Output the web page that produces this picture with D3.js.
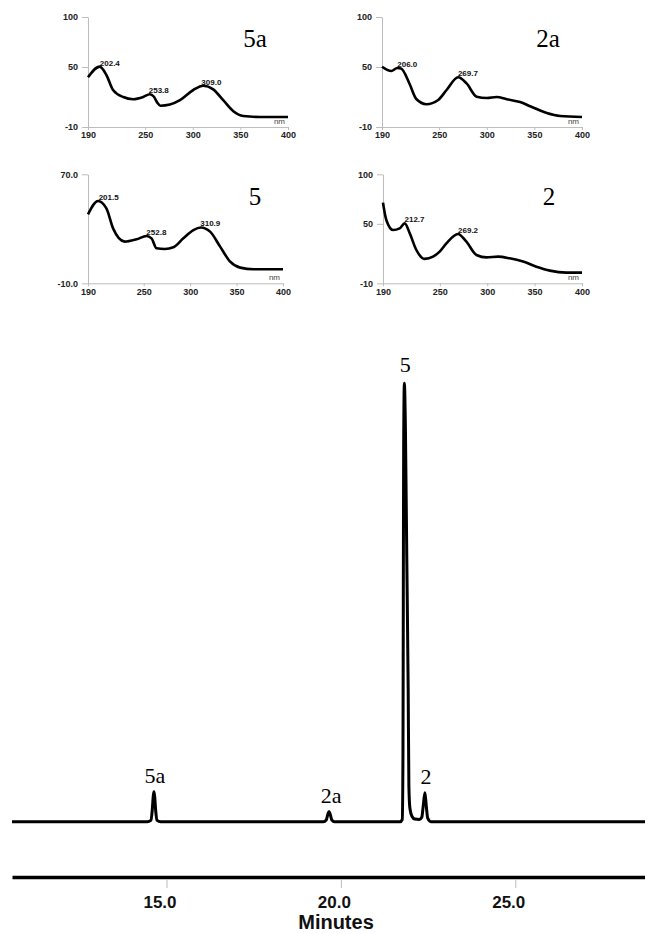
<!DOCTYPE html>
<html>
<head>
<meta charset="utf-8">
<script src="https://cdn.jsdelivr.net/npm/d3@7"></script>
<style>
  html, body { margin: 0; padding: 0; background: #fff; }
  svg { display: block; }
</style>
</head>
<body>
<div class="chart-box"></div>
<script>
// UV spectra of the four peaks: [wavelength nm, absorbance]
const spectrum5a = [[190,39.7],[202.3,50.4],[209.3,42],[216.3,27],[227,20],[237.4,17.8],[248,20],[255,22.8],[259,20.5],
  [263,14],[266,11.3],[276,12.5],[286.6,16.8],[300.6,27],[311,31.3],[321.5,27.6],[332,16.8],[342.6,5.8],[353,1],[370.6,0],[400,0]];
const spectrum2a = [[190,50.3],[199.8,46],[206,49],[210,48.5],[219,33],[226,18],[236.7,12.8],[249,17],[257.8,27],[270,39.7],
  [278.8,33.6],[289.4,20.3],[300,19],[310.4,20],[321,17.7],[335,15],[345.6,10.8],[363,4],[377,1],[400,0]];
const spectrum5 = [[190,40.6],[200.8,50.4],[209.8,45],[217,30.3],[229.6,20.6],[242.2,22.3],[253,24.7],[258.4,23],[263.8,15.7],
  [272.8,15.2],[281.9,16.4],[292.7,23],[303.5,29.1],[311.5,31],[321.5,27.9],[332.3,16.9],[343.1,5.9],[353.9,1.5],[368.3,0.3],[400,0.3]];
const spectrum2 = [[190,71.4],[193.5,53.9],[200.6,43.8],[207.6,45.5],[212.9,50.5],[218.2,40.5],[225.2,23.6],[234,14.6],[242.8,16.9],
  [249.8,22],[256.9,30.4],[269.2,39.8],[278,32],[288.6,18.6],[299.2,16.2],[311.5,16.9],[323.7,15.2],[337.8,11.9],[351.9,6.8],
  [366,2.8],[383.5,0.8],[400,0.8]];

// labelled maxima of each spectrum: [wavelength, absorbance]
const maxima5a = [[202.4,50.4],[253.8,22.8],[309.0,31.3]];
const maxima2a = [[206.0,49],[269.7,39.7]];
const maxima5 = [[201.5,50.4],[252.8,24.7],[310.9,31]];
const maxima2 = [[212.7,50.5],[269.2,39.8]];

const nmTicks = [190, 250, 300, 350, 400];
const absTicks = [-10, 50, 100];
const absTicks5 = [-10, 70];

// chromatogram trace: [minutes, signal]
const chromatogram = [[10.57,0],[14.45,0],[14.55,0.3],[14.59,2.5],[14.62,5.8],[14.64,6.84],[14.66,5.8],[14.69,2.5],[14.73,0.3],
  [14.83,0],[19.5,0],[19.58,0.4],[19.63,1.8],[19.66,2.3],[19.69,1.8],[19.74,0.4],[19.82,0],[21.7,0],[21.76,0.5],[21.78,15],
  [21.79,50],[21.8,85],[21.82,100],[21.85,90],[21.89,60],[21.93,30],[21.95,8],[21.98,3],[22.04,1.2],[22.12,0.6],[22.25,0.5],
  [22.32,1],[22.36,3.5],[22.41,6.6],[22.45,3.5],[22.49,0.8],[22.58,0],[28.72,0]];
const peakNames = ['5a', '2a', '5', '2'];
const peakTimes = [14.64, 19.66, 21.82, 22.41];
const peakHeights = [6.84, 2.3, 100, 6.6];
const minuteTicks = [15, 20, 25];

const SANS = '"Liberation Sans", Arial, sans-serif';
const SERIF = '"Liberation Serif", "Times New Roman", serif';

let svg = d3.select('.chart-box')
  .append('svg')
    .attr('width', 645)
    .attr('height', 934);

/**
 * Draw one small UV spectrum panel
 */
let drawSpectrum = (box, values, maxima, yDomain, yTicks, yFormat, name, namePos) => {
  var xscale = d3.scaleLinear().domain([190, 400]).range([box.x0, box.x1]);
  var yscale = d3.scaleLinear().domain(yDomain).range([box.y1, box.y0]);
  var g = svg.append('g').attr('class', 'spectrum');

  g.append('g')
    .attr('transform', 'translate(0, ' + box.y1 + ')')
    .call(d3.axisBottom(xscale).tickValues(nmTicks).tickFormat(d => String(d)).tickSize(3).tickSizeOuter(0).tickPadding(2));

  g.append('g')
    .attr('transform', 'translate(' + box.x0 + ', 0)')
    .call(d3.axisLeft(yscale).tickValues(yTicks).tickFormat(yFormat).tickSize(6).tickSizeOuter(0).tickPadding(4));

  g.selectAll('.domain, .tick line').attr('stroke', '#bdbdbd');
  g.selectAll('.tick text')
    .attr('fill', '#222')
    .style('font', 'bold 9px ' + SANS);

  g.append('text')
    .attr('x', box.x1 - 3)
    .attr('y', box.y1 - 3)
    .attr('text-anchor', 'end')
    .attr('fill', '#444')
    .style('font', '8px ' + SANS)
    .text('nm');

  g.append('path')
    .datum(values)
    .attr('fill', 'none')
    .attr('stroke', '#000')
    .attr('stroke-width', 2.6)
    .attr('stroke-linejoin', 'round')
    .attr('d', d3.line().x(d => xscale(d[0])).y(d => yscale(d[1])).curve(d3.curveMonotoneX));

  g.selectAll('.max-label')
    .data(maxima)
    .enter().append('text')
      .attr('class', 'max-label')
      .attr('x', d => xscale(d[0]))
      .attr('y', d => yscale(d[1]) - 1)
      .attr('fill', '#111')
      .style('font', 'bold 8px ' + SANS)
      .text(d => d[0].toFixed(1));

  g.append('text')
    .attr('x', namePos[0])
    .attr('y', namePos[1])
    .attr('text-anchor', 'middle')
    .style('font', '25px ' + SERIF)
    .text(name);
}

drawSpectrum({x0: 88, x1: 288, y0: 17, y1: 127}, spectrum5a, maxima5a, [-10, 100], absTicks, d => String(d), '5a', [255, 47]);
drawSpectrum({x0: 382, x1: 582, y0: 17, y1: 127}, spectrum2a, maxima2a, [-10, 100], absTicks, d => String(d), '2a', [548, 47]);
drawSpectrum({x0: 88, x1: 283, y0: 174.3, y1: 283.3}, spectrum5, maxima5, [-10, 70], absTicks5, d => d.toFixed(1), '5', [255, 205]);
drawSpectrum({x0: 383, x1: 582, y0: 174.3, y1: 283.3}, spectrum2, maxima2, [-10, 100], absTicks, d => String(d), '2', [549, 205]);

// Chromatogram
var tscale = d3.scaleLinear().domain([10.57, 28.72]).range([12, 645]);
var sscale = d3.scaleLinear().domain([0, 100]).range([821.7, 383.3]);

svg.append('path')
  .datum(chromatogram)
  .attr('fill', 'none')
  .attr('stroke', '#000')
  .attr('stroke-width', 3)
  .attr('stroke-linejoin', 'round')
  .attr('d', d3.line().x(d => tscale(d[0])).y(d => sscale(d[1])).curve(d3.curveMonotoneX));

svg.selectAll('.peak-name')
  .data(peakNames)
  .enter().append('text')
    .attr('class', 'peak-name')
    .attr('x', (d, i) => tscale(peakTimes[i]) + (d == '2a' ? 2 : 1))
    .attr('y', (d, i) => sscale(peakHeights[i]) - (d == '5' ? 11 : 9))
    .attr('text-anchor', 'middle')
    .style('font', '22px ' + SERIF)
    .text(d => d);

var timeAxis = svg.append('g')
  .attr('class', 'x axis')
  .attr('transform', 'translate(0, 877)')
  .call(d3.axisBottom(tscale).tickValues(minuteTicks).tickFormat(d => d.toFixed(1)).tickSize(11).tickSizeOuter(0).tickPadding(8));

timeAxis.select('.domain').attr('stroke', '#000').attr('stroke-width', 3.5);
timeAxis.selectAll('.tick line').attr('stroke', '#bbb').attr('y1', 3);
timeAxis.selectAll('.tick text')
  .attr('dx', -7)
  .attr('fill', '#111')
  .style('font', 'bold 17px ' + SANS);

svg.append('text')
  .attr('x', 336)
  .attr('y', 929)
  .attr('text-anchor', 'middle')
  .attr('fill', '#111')
  .style('font', 'bold 20px ' + SANS)
  .text('Minutes');
</script>
</body>
</html>
